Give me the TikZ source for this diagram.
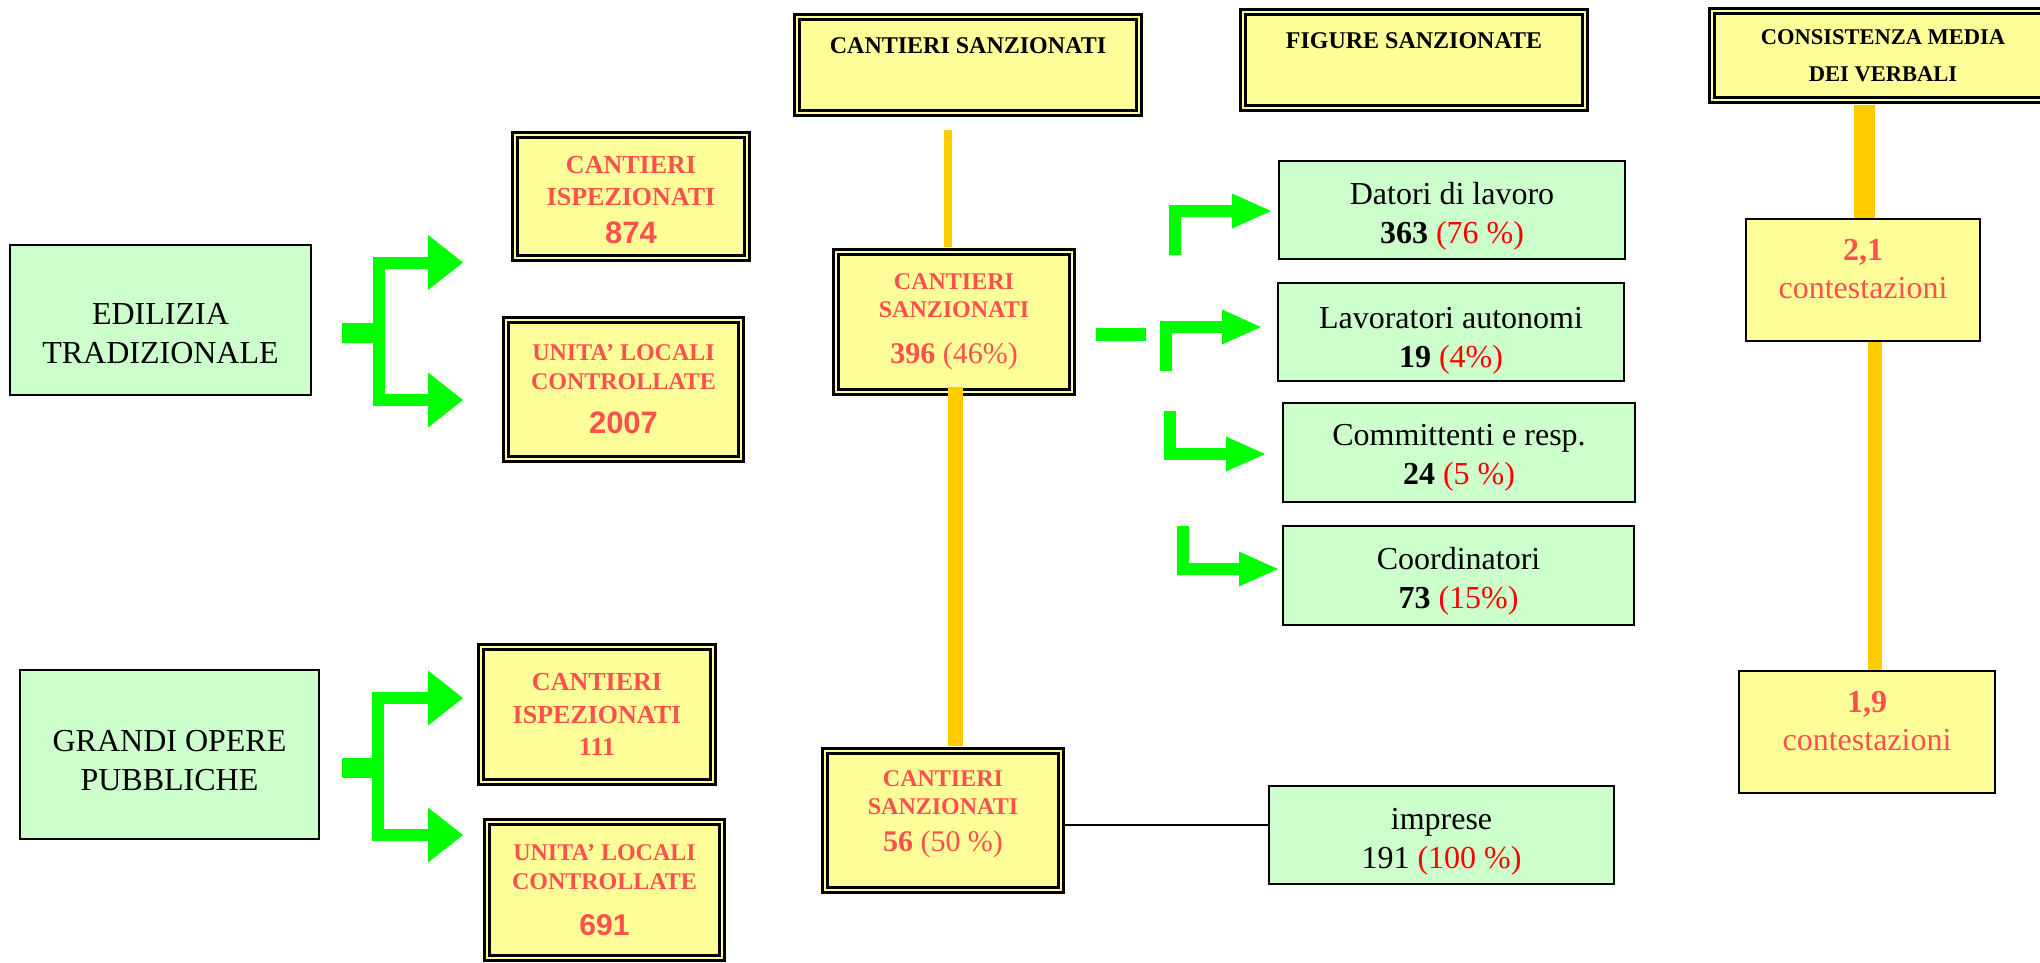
\documentclass[tikz,border=0pt]{standalone}
\usepackage{fontspec}
\setmainfont{Liberation Serif}
\newfontfamily\arialfont{Liberation Sans}
\usetikzlibrary{arrows.meta}
\definecolor{verdino}{HTML}{CCFFCC}
\definecolor{giallino}{HTML}{FFFF99}
\definecolor{rosso}{HTML}{FF4F4F}
\definecolor{verde}{HTML}{00FF00}
\definecolor{arancio}{HTML}{FFCC00}
\tikzset{
  greenbox/.style={draw=black, line width=2pt, fill=verdino, align=center, inner sep=0pt,
    font=\fontsize{32}{39}\selectfont},
  yellowbox/.style={draw=black, line width=2.5pt, double=giallino, double distance=2.5pt,
    fill=giallino, align=center, inner sep=0pt, text=rosso, font=\bfseries\fontsize{24}{28}\selectfont},
  plainyellow/.style={draw=black, line width=2pt, fill=giallino, align=center, inner sep=0pt,
    text=rosso, font=\fontsize{32}{38}\selectfont},
  elbowarrow/.style={verde, line width=12pt, line join=miter,
    -{Triangle[length=39pt,width=35pt,line width=0pt]}},
  forkarrow/.style={verde, line width=12pt, line join=miter,
    {Triangle[length=35pt,width=55pt,line width=0pt]}-{Triangle[length=35pt,width=55pt,line width=0pt]}},
  orangeline/.style={arancio},
}
\begin{document}
\begin{tikzpicture}[x=1pt,y=-1pt]
  \path[use as bounding box, fill=white] (0,0) rectangle (2040,962);

  \node[greenbox, minimum width=301pt, minimum height=150pt] (edil) at (160.5,320)
    {\rule{0pt}{49pt}EDILIZIA\\TRADIZIONALE};
  \node[greenbox, minimum width=299pt, minimum height=169pt] (grandi) at (169.5,754.5)
    {\rule{0pt}{34pt}GRANDI OPERE\\PUBBLICHE};

  \node[yellowbox, font=\bfseries\fontsize{26}{32}\selectfont, minimum width=232pt, minimum height=123pt]
    (isp1) at (631,196.5) {\rule{0pt}{25pt}CANTIERI\\ISPEZIONATI\\[6pt]{\arialfont\fontsize{31}{36}\selectfont 874}};
  \node[yellowbox, font=\bfseries\fontsize{24}{29}\selectfont, minimum width=235pt, minimum height=139pt]
    (loc1) at (623.5,389.5) {UNITA’ LOCALI\\CONTROLLATE\\[15pt]{\arialfont\fontsize{31}{36}\selectfont 2007}};
  \node[yellowbox, font=\bfseries\fontsize{26}{32.5}\selectfont, minimum width=232pt, minimum height=135pt]
    (isp2) at (597,714.5) {CANTIERI\\ISPEZIONATI\\111};
  \node[yellowbox, font=\bfseries\fontsize{24}{29}\selectfont, minimum width=235pt, minimum height=136pt]
    (loc2) at (604.5,890) {UNITA’ LOCALI\\CONTROLLATE\\[17pt]{\arialfont\fontsize{30}{36}\selectfont 691}};

  \node[yellowbox, text=black, minimum width=342pt, text height=36pt, text depth=60pt]
    (hdrcs) at (968,65) {CANTIERI SANZIONATI};
  \node[yellowbox, text=black, minimum width=342pt, text height=36pt, text depth=60pt]
    (hdrfig) at (1414,60) {FIGURE SANZIONATE};
  \node[yellowbox, text=black, font=\bfseries\fontsize{22.5}{37}\selectfont, minimum width=342pt, minimum height=89pt]
    (hdrcons) at (1883,55.5) {CONSISTENZA MEDIA\\DEI VERBALI};

  \node[yellowbox, minimum width=236pt, minimum height=140pt] (cs1) at (954,322)
    {CANTIERI\\SANZIONATI\\[18pt]{\fontsize{30}{36}\selectfont 396 \mdseries(46\%)}};
  \node[yellowbox, minimum width=236pt, minimum height=139pt] (cs2) at (943,820.5)
    {CANTIERI\\SANZIONATI\\[9pt]{\fontsize{30}{36}\selectfont 56 \mdseries(50 \%)}\rule[-18pt]{0pt}{1pt}};

  \node[greenbox, minimum width=346pt, minimum height=98pt] (dat) at (1452,210)
    {\rule{0pt}{34pt}Datori di lavoro\\\textbf{363} \textcolor{red}{(76 \%)}};
  \node[greenbox, minimum width=346pt, minimum height=98pt] (lav) at (1451,332)
    {\rule{0pt}{39pt}Lavoratori autonomi\\\textbf{19} \textcolor{red}{(4\%)}};
  \node[greenbox, minimum width=352pt, minimum height=99pt] (com) at (1459,452.5)
    {\rule{0pt}{31pt}Committenti e resp.\\\textbf{24} \textcolor{red}{(5 \%)}};
  \node[greenbox, minimum width=351pt, minimum height=99pt] (coo) at (1458.5,575.5)
    {\rule{0pt}{34pt}Coordinatori\\\textbf{73} \textcolor{red}{(15\%)}};
  \node[greenbox, minimum width=345pt, minimum height=98pt] (imp) at (1441.5,835)
    {\rule{0pt}{34pt}imprese\\191 \textcolor{red}{(100 \%)}};

  \node[plainyellow, minimum width=234pt, minimum height=122pt] (b21) at (1863,280)
    {\textbf{2,1}\\contestazioni\rule[-22pt]{0pt}{1pt}};
  \node[plainyellow, minimum width=256pt, minimum height=122pt] (b19) at (1867,732)
    {\textbf{1,9}\\contestazioni\rule[-22pt]{0pt}{1pt}};

  \fill[verde] (342,323) rectangle (385,343);
  \coordinate (ediltop) at (463,262.5);
  \coordinate (edilbot) at (463,400);
  \coordinate (edilbar) at (378.5,0);
  \draw[forkarrow] (ediltop) -- (ediltop -| edilbar) -- (edilbot -| edilbar) -- (edilbot);

  \fill[verde] (342,758) rectangle (382,778);
  \coordinate (grantop) at (463,698);
  \coordinate (granbot) at (463,835);
  \coordinate (granbar) at (378,0);
  \draw[forkarrow] (grantop) -- (grantop -| granbar) -- (granbot -| granbar) -- (granbot);

  \fill[verde] (1096,328) rectangle (1146,341);
  \coordinate (datfoot) at (1175,255);
  \coordinate (dattip) at (1271,211);
  \coordinate (lavfoot) at (1165.5,371);
  \coordinate (lavtip) at (1261,327);
  \coordinate (comfoot) at (1169.5,411);
  \coordinate (comtip) at (1265,454);
  \coordinate (coofoot) at (1182.5,526);
  \coordinate (cootip) at (1278,569);
  \draw[elbowarrow] (datfoot) |- (dattip);
  \draw[elbowarrow] (lavfoot) |- (lavtip);
  \draw[elbowarrow] (comfoot) |- (comtip);
  \draw[elbowarrow] (coofoot) |- (cootip);

  \draw[orangeline, line width=8pt] ([xshift=-6pt,yshift=4pt]cs1.north)
    -- ([xshift=-6pt,yshift=-16pt]cs1.north |- hdrcs.south);
  \draw[orangeline, line width=15pt] ([xshift=1pt,yshift=6pt]cs1.south)
    -- ([xshift=1pt,yshift=4pt]cs1.south |- cs2.north);
  \draw[orangeline, line width=21pt] ([xshift=1.5pt,yshift=-4pt]b21.north |- hdrcons.south)
    -- ([xshift=1.5pt]b21.north);
  \draw[orangeline, line width=14pt] ([xshift=12pt]b21.south)
    -- ([xshift=12pt]b21.south |- b19.north);

  \draw[line width=2pt] ([yshift=10pt]imp.west) -- ([yshift=10pt]imp.west -| cs2.east);
\end{tikzpicture}
\end{document}
